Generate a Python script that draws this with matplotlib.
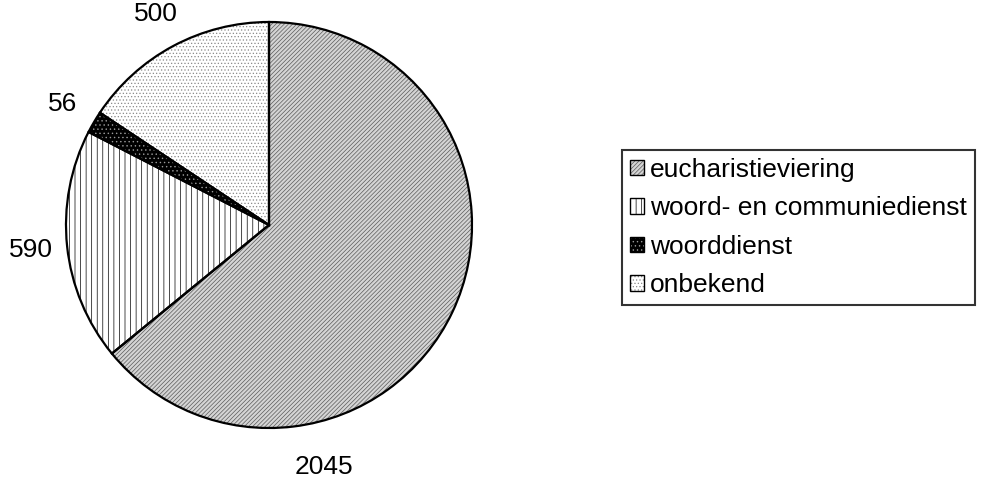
import matplotlib
matplotlib.use("Agg")
import matplotlib.pyplot as plt
from matplotlib.patches import Patch
from matplotlib.legend_handler import HandlerTuple

categories = ["eucharistieviering", "woord- en communiedienst", "woorddienst", "onbekend"]
values = [2045, 590, 56, 500]

face_colors = ["#d4d4d4", "white", "black", "white"]
hatch_colors = ["#5a5a5a", "black", "#9a9a9a", "#8a8a8a"]
hatches = ["////////", "|||", "....", "....."]

plt.rcParams['font.family'] = ['Liberation Sans', 'DejaVu Sans']
plt.rcParams['hatch.linewidth'] = 0.5

fig = plt.figure(figsize=(9.85, 4.82), dpi=100)
ax = fig.add_axes([66/985, 54/482, 406/985, 406/482])

wedges, _ = ax.pie(values, startangle=90, counterclock=False,
                   colors=face_colors, radius=1.0,
                   wedgeprops=dict(linewidth=0))
for w, h, hc in zip(wedges, hatches, hatch_colors):
    w.set_hatch(h)
    w.set_edgecolor(hc)
    w.set_linewidth(0)

outline, texts = ax.pie(values, startangle=90, counterclock=False,
                        labels=[str(v) for v in values], labeldistance=1.18,
                        radius=1.0,
                        wedgeprops=dict(fill=False, edgecolor='black', linewidth=1.6),
                        textprops=dict(fontsize=19))
for t in texts:
    t.set_ha('center')
    t.set_va('center')
texts[0].set_position((0.27, -1.19))

ax.set_xlim(-1.0, 1.0)
ax.set_ylim(-1.0, 1.0)
ax.set_aspect('equal')
ax.axis('off')

handles = [(Patch(facecolor=fc, edgecolor=hc, hatch=h, linewidth=0),
            Patch(fill=False, edgecolor='black', linewidth=1.0))
           for fc, hc, h in zip(face_colors, hatch_colors, hatches)]
leg = fig.legend(handles, categories, loc='upper left',
                 handler_map={tuple: HandlerTuple(ndivide=1)},
                 bbox_to_anchor=(622/985, 1 - 150/482),
                 fontsize=19, frameon=True, fancybox=False,
                 handlelength=0.52, handleheight=0.52, handletextpad=0.25,
                 labelspacing=0.55, borderpad=0.3, borderaxespad=0)
leg.get_frame().set_edgecolor('black')
leg.get_frame().set_linewidth(1.5)

fig.savefig("out.png", dpi=100)
